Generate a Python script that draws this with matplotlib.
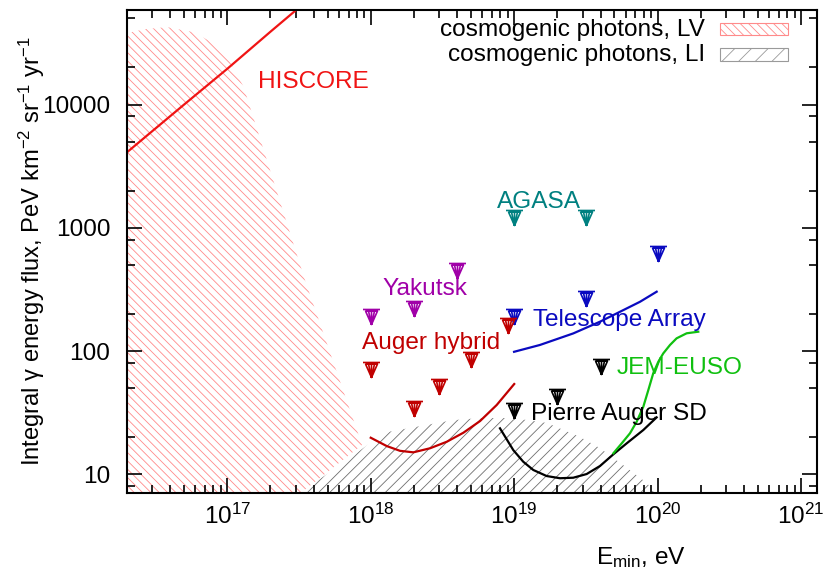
import numpy as np
import matplotlib
matplotlib.use("Agg")
import matplotlib.pyplot as plt
from matplotlib.path import Path
from matplotlib.patches import Rectangle
from matplotlib.ticker import LogLocator, FixedLocator, FuncFormatter, NullFormatter, LogFormatterSciNotation

plt.rcParams['font.family'] = ['Liberation Sans', 'DejaVu Sans']
plt.rcParams['mathtext.fontset'] = 'custom'
plt.rcParams['mathtext.rm'] = 'Liberation Sans'
plt.rcParams['mathtext.it'] = 'Liberation Sans:italic'
plt.rcParams['mathtext.bf'] = 'Liberation Sans:bold'
plt.rcParams['hatch.linewidth'] = 0.6

# ---------------- data ----------------
hiscore_E = [2e16, 5e16, 1e17, 2e17, 3.1e17]
hiscore_F = [4100, 10000, 19500, 39000, 60000]

lv_upper_E = [2e16, 2.67e16, 3.8e16, 5.8e16, 8e16, 1e17, 1.3e17, 3.48e17, 8.7e17]
lv_upper_F = [38000, 40900, 42500, 38700, 31500, 24300, 13900, 376, 17.3]
lv_lower_E = [8.7e17, 3.22e17, 2e16]
lv_lower_F = [17.3, 7.0, 0.6]

li_E = [2.9e17, 5.46e17, 9.9e17, 1.36e18, 3.75e18, 5.78e18, 9.8e18, 1.69e19,
        2.87e19, 3.96e19, 5.73e19, 8.41e19, 9.55e19]
li_F = [6.6, 10.8, 17.9, 22.2, 27.5, 28.6, 28.6, 26.1, 20.1, 16.3, 11.9, 8.5, 7.0]
li_floor = 1.0

auger_hyb_curve_E = [1.00e18, 1.29e18, 1.60e18, 1.98e18, 2.59e18, 3.39e18, 4.42e18, 5.78e18, 7.55e18, 1.00e19]
auger_hyb_curve_F = [19.8, 16.96, 15.5, 15.07, 16.26, 18.37, 21.73, 27.04, 36.5, 54.0]

auger_sd_curve_E = [7.96e18, 9.86e18, 1.156e19, 1.358e19, 1.683e19, 2.084e19, 2.58e19, 3.2e19,
                    3.96e19, 4.91e19, 6.08e19, 7.94e19, 9.84e19]
auger_sd_curve_F = [23.6, 15.7, 12.65, 10.84, 9.68, 9.29, 9.38, 10.05, 11.67, 14.52, 17.82, 22.86, 28.97]

ta_curve_E = [9.98e18, 1.51e19, 2.58e19, 3.96e19, 5.18e19, 7.53e19, 9.84e19]
ta_curve_F = [98.6, 112, 139, 173, 202, 251, 303]

jem_curve_E = [4.91e19, 5.61e19, 6.41e19, 7.14e19, 7.94e19, 8.61e19, 9.31e19, 1.01e20,
               1.094e20, 1.219e20, 1.355e20, 1.592e20, 1.919e20]
jem_curve_F = [14.8, 17.8, 21.5, 26.7, 35.3, 48.3, 65.9, 81.8, 95.7, 112, 126.8, 139.3, 143.5]

yakutsk_E = [1e18, 2e18, 4e18]
yakutsk_F = [218, 256, 514]
agasa_E = [1e19, 3.15e19]
agasa_F = [1390, 1390]
ta_E = [1e19, 3.16e19, 1e20]
ta_F = [218, 307, 714]
auger_hyb_E = [1e18, 2e18, 3e18, 5e18, 9.1e18]
auger_hyb_F = [81, 39, 59, 97.5, 186]
auger_sd_E = [1e19, 2e19, 4e19]
auger_sd_F = [37.7, 48.9, 86]

y_ticks = [10, 100, 1000, 10000]

# colours
c_hiscore = '#f01414'
c_auger_hyb = '#c00000'
c_yakutsk = '#a000a8'
c_agasa = '#008080'
c_ta = '#0a0ac0'
c_jem = '#10c010'
c_sd = '#000000'
c_lv = '#ff8a8a'
c_li = '#6e6e6e'

FS = 17.6

fig = plt.figure(figsize=(8.25, 5.69), dpi=100)
ax = fig.add_axes([127/825, 1-493/569, (817-127)/825, (493-10)/569])
ax.set_xscale('log')
ax.set_yscale('log')
ax.set_xlim(2e16, 1.29e21)
ax.set_ylim(7.05, 5.85e4)

# regions
ax.fill(lv_upper_E + lv_lower_E, lv_upper_F + lv_lower_F, facecolor='none',
        edgecolor=c_lv, linewidth=0, hatch='\\' * 4, zorder=1)
ax.fill_between(li_E, li_F, li_floor, facecolor='none', edgecolor=c_li,
                linewidth=0, hatch='/' * 3, zorder=1)

# curves
ax.plot(hiscore_E, hiscore_F, color=c_hiscore, lw=1.6, zorder=2)
ax.plot(auger_hyb_curve_E, auger_hyb_curve_F, color=c_auger_hyb, lw=1.6, zorder=2)
ax.plot(auger_sd_curve_E, auger_sd_curve_F, color=c_sd, lw=1.6, zorder=2)
ax.plot(ta_curve_E, ta_curve_F, color=c_ta, lw=1.6, zorder=2)
ax.plot(jem_curve_E, jem_curve_F, color=c_jem, lw=1.6, zorder=2)

# upper-limit marker
verts = [(-8.5, 0), (8.5, 0),
         (-6, -1.5), (6, -1.5), (0, -15), (-6, -1.5),
         (-3, -1.5), (0, -15),
         (0, -1.5), (0, -15),
         (3, -1.5), (0, -15)]
codes = [Path.MOVETO, Path.LINETO,
         Path.MOVETO, Path.LINETO, Path.LINETO, Path.LINETO,
         Path.MOVETO, Path.LINETO,
         Path.MOVETO, Path.LINETO,
         Path.MOVETO, Path.LINETO]
ul_marker = Path(verts, codes)

for E, F, c in [(yakutsk_E, yakutsk_F, c_yakutsk), (agasa_E, agasa_F, c_agasa),
                (ta_E, ta_F, c_ta), (auger_hyb_E, auger_hyb_F, c_auger_hyb),
                (auger_sd_E, auger_sd_F, c_sd)]:
    ax.plot(E, F, linestyle='none', marker=ul_marker, ms=21.6, mec=c, mfc='none',
            mew=1.2, zorder=3)

# labels
ax.text(1.64e17, 13500, 'HISCORE', color=c_hiscore, fontsize=FS, va='baseline', zorder=4)
ax.text(7.6e18, 1445, 'AGASA', color=c_agasa, fontsize=FS, va='baseline', zorder=4)
ax.text(1.2e18, 285, 'Yakutsk', color=c_yakutsk, fontsize=FS, va='baseline', zorder=4)
ax.text(1.35e19, 160, 'Telescope Array', color=c_ta, fontsize=FS, va='baseline', zorder=4)
ax.text(8.7e17, 104, 'Auger hybrid', color=c_auger_hyb, fontsize=FS, va='baseline', zorder=4)
ax.text(5.2e19, 65, 'JEM-EUSO', color=c_jem, fontsize=FS, va='baseline', zorder=4)
ax.text(1.31e19, 27.5, 'Pierre Auger SD', color=c_sd, fontsize=FS, va='baseline', zorder=4)

# legend (manual, gnuplot style)
ax.text(0.8377, 0.946, 'cosmogenic photons, LV', transform=ax.transAxes, ha='right',
        va='baseline', fontsize=FS)
ax.text(0.8377, 0.8934, 'cosmogenic photons, LI', transform=ax.transAxes, ha='right',
        va='baseline', fontsize=FS)
ax.add_patch(Rectangle((0.8594, 0.9482), 0.0986, 0.0248, transform=ax.transAxes,
                       facecolor='none', edgecolor=c_lv, linewidth=0.8, hatch='\\' * 4))
ax.add_patch(Rectangle((0.8594, 0.8944), 0.0986, 0.0269, transform=ax.transAxes,
                       facecolor='none', edgecolor='#9a9a9a', linewidth=0.8, hatch='/' * 2))

# ticks
ax.xaxis.set_major_locator(LogLocator(base=10, numticks=20))
ax.xaxis.set_minor_locator(LogLocator(base=10, subs=np.arange(2, 10), numticks=100))
ax.xaxis.set_major_formatter(LogFormatterSciNotation())
ax.xaxis.set_minor_formatter(NullFormatter())
ax.yaxis.set_major_locator(FixedLocator(y_ticks))
ax.yaxis.set_minor_locator(LogLocator(base=10, subs=(2, 5, 8), numticks=100))
ax.yaxis.set_major_formatter(FuncFormatter(lambda v, _: f'{v:g}'))
ax.yaxis.set_minor_formatter(NullFormatter())
ax.tick_params(which='both', direction='in', top=True, right=True, width=1.2,
               labelsize=FS)
ax.tick_params(which='major', length=10.8)
ax.tick_params(which='minor', length=5.8)
ax.tick_params(axis='x', which='major', pad=8)
ax.tick_params(axis='y', which='major', pad=12)
for s in ax.spines.values():
    s.set_linewidth(1.5)

fig.text(32/825, 1-251/569,
         'Integral \u03b3 energy flux, PeV km$^{\\mathdefault{-2}}$ sr$^{\\mathdefault{-1}}$ yr$^{\\mathdefault{-1}}$',
         rotation=90, ha='center', va='center', fontsize=17.1)
fig.text(641/825, 1-564/569, 'E$_{\\mathdefault{min}}$, eV', ha='center', va='baseline',
         fontsize=FS)

fig.savefig('out.png', dpi=100)
